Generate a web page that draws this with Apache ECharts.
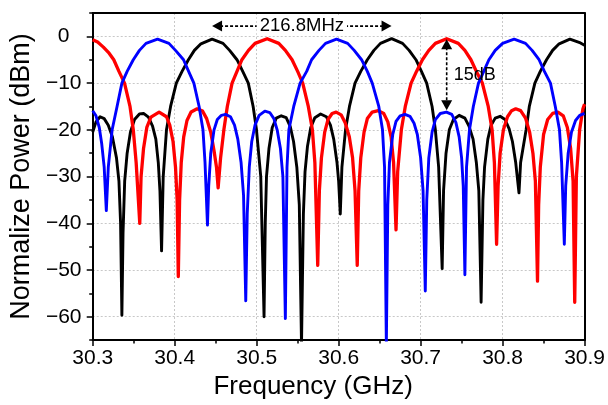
<!DOCTYPE html>
<html><head><meta charset="utf-8">
<script src="https://cdn.jsdelivr.net/npm/echarts@6/dist/echarts.min.js"></script>
<style>html,body{margin:0;padding:0;background:#fff}#c{width:608px;height:405px}</style>
</head><body><div id="c"></div>
<script>
// ---- data (frequency GHz, power dBm) ----
const blackCurve = [
[30.300,-20.5],[30.304,-18.3],[30.309,-17.2],[30.314,-17.6],[30.319,-19.0],[30.324,-21.5],[30.329,-26],[30.332,-31],[30.334,-40],[30.3356,-59.7],
[30.337,-42],[30.339,-31],[30.342,-25],[30.346,-20.5],[30.351,-17.8],[30.357,-16.6],[30.362,-16.5],[30.368,-17.3],[30.373,-19.2],[30.377,-22],[30.380,-27],[30.382,-33],[30.384,-45.9],
[30.386,-30],[30.390,-20],[30.395,-15],[30.402,-10],[30.409,-7.5],[30.4167,-5],[30.424,-3.0],[30.432,-1.6],[30.4456,-0.6],[30.459,-1.5],[30.467,-3.0],[30.476,-5],[30.483,-7.5],[30.4898,-10],[30.4957,-15],[30.4998,-20],[30.505,-30],[30.509,-60],
[30.5105,-40],[30.512,-30],[30.515,-24],[30.519,-19.5],[30.524,-17.5],[30.530,-17.0],[30.536,-17.4],[30.541,-19.3],[30.545,-22.5],[30.549,-28],[30.552,-36],[30.5547,-66],
[30.557,-38],[30.559,-29],[30.562,-23.5],[30.566,-19.5],[30.571,-17.4],[30.578,-16.6],[30.585,-17.2],[30.590,-19],[30.594,-22],[30.598,-27],[30.600,-31],[30.602,-38],
[30.604,-28],[30.6084,-20],[30.6132,-15],[30.620,-10],[30.627,-7.5],[30.635,-5],[30.643,-3],[30.651,-1.5],[30.6646,-0.5],[30.678,-1.5],[30.686,-3],[30.6943,-5],[30.701,-7.5],[30.7074,-10],[30.714,-15],[30.718,-20],[30.722,-28],[30.7263,-49.7],
[30.728,-33],[30.731,-25],[30.735,-20],[30.740,-17.8],[30.747,-16.9],[30.754,-17.5],[30.759,-19.2],[30.764,-22],[30.768,-27],[30.771,-33],[30.7738,-56.9],
[30.776,-35],[30.778,-28],[30.782,-22],[30.786,-19],[30.791,-17.5],[30.797,-17.1],[30.803,-17.8],[30.808,-19.8],[30.812,-22.5],[30.816,-27],[30.820,-33.5],
[30.822,-27],[30.8287,-20],[30.8326,-15],[30.8394,-10],[30.846,-7.5],[30.8536,-5],[30.861,-3],[30.869,-1.6],[30.8821,-0.6],[30.895,-1.4],[30.900,-1.9]
];
const redCurve = [
[30.300,-0.7],[30.306,-1.2],[30.313,-2.3],[30.320,-3.6],[30.3257,-5],[30.332,-7.5],[30.3388,-10],[30.3455,-15],[30.3495,-20],[30.353,-27],[30.3574,-40],
[30.359,-30],[30.362,-24],[30.366,-19.5],[30.371,-17.3],[30.381,-16.2],[30.390,-17.2],[30.394,-19],[30.398,-22.5],[30.401,-28],[30.403,-35],[30.4044,-51.4],
[30.406,-35],[30.408,-27],[30.411,-21.5],[30.415,-18],[30.420,-16.2],[30.4274,-15.5],[30.434,-16],[30.439,-17.6],[30.444,-20.5],[30.448,-24.5],[30.451,-28],[30.453,-32.4],
[30.456,-26],[30.460,-20],[30.4642,-15],[30.470,-10],[30.476,-7.5],[30.482,-5],[30.490,-3],[30.498,-1.5],[30.5128,-0.5],[30.527,-1.5],[30.535,-3],[30.5432,-5],[30.550,-7.5],[30.5562,-10],[30.563,-15],[30.568,-20],[30.571,-27],[30.5745,-49],
[30.5765,-33],[30.579,-26],[30.583,-20.5],[30.587,-17.8],[30.592,-16.5],[30.597,-16.2],[30.603,-16.8],[30.608,-18.5],[30.613,-21.5],[30.617,-26],[30.620,-33],[30.6227,-49],
[30.6245,-33],[30.627,-26],[30.631,-20.5],[30.635,-17.6],[30.641,-16.2],[30.6484,-15.9],[30.655,-16.5],[30.660,-18.3],[30.664,-21.5],[30.667,-27],[30.670,-41.4],
[30.672,-29],[30.6765,-20],[30.6813,-15],[30.6884,-10],[30.695,-7.5],[30.7022,-5],[30.710,-3],[30.718,-1.5],[30.7318,-0.5],[30.746,-1.5],[30.754,-3],[30.7614,-5],[30.768,-7.5],[30.7753,-10],[30.7825,-15],[30.7872,-20],[30.790,-27],[30.7927,-44.5],
[30.7945,-32],[30.797,-25],[30.801,-20],[30.806,-17.2],[30.811,-15.9],[30.816,-15.5],[30.822,-15.9],[30.828,-17.5],[30.833,-20.5],[30.837,-25],[30.840,-31],[30.8426,-52.4],
[30.844,-36],[30.846,-28],[30.850,-21],[30.855,-17.8],[30.861,-16.5],[30.8675,-16.2],[30.874,-17],[30.879,-19.5],[30.883,-24],[30.886,-31],[30.888,-56.9],
[30.890,-30],[30.894,-20],[30.898,-15.5],[30.900,-14.5]
];
const blueCurve = [
[30.300,-15.9],[30.304,-17],[30.308,-19.5],[30.311,-23],[30.314,-28],[30.3166,-37.3],
[30.319,-28],[30.3237,-20],[30.3297,-15],[30.3356,-10],[30.342,-7.5],[30.3495,-5],[30.357,-3],[30.365,-1.5],[30.3791,-0.6],[30.393,-1.5],[30.401,-3],[30.4108,-5],[30.417,-7.5],[30.4234,-10],[30.4298,-15],[30.4345,-20],[30.437,-27],[30.440,-40.4],
[30.4415,-32],[30.444,-25],[30.448,-20],[30.452,-17.8],[30.457,-16.9],[30.462,-16.7],[30.468,-17.2],[30.473,-19],[30.477,-22],[30.481,-27],[30.484,-34],[30.4867,-56.6],
[30.4885,-38],[30.491,-28],[30.494,-22.5],[30.498,-19],[30.503,-16.9],[30.510,-16],[30.516,-16.3],[30.521,-17.6],[30.525,-20],[30.529,-24],[30.532,-30],[30.535,-60.4],
[30.537,-28],[30.5393,-20],[30.5452,-15],[30.553,-10],[30.561,-7.5],[30.567,-5],[30.576,-3],[30.584,-1.5],[30.5974,-0.6],[30.611,-1.5],[30.619,-3],[30.628,-5],[30.635,-7.5],[30.641,-10],[30.649,-15],[30.6535,-20],[30.656,-28],[30.6582,-66],
[30.660,-36],[30.662,-27],[30.666,-21],[30.670,-18.2],[30.675,-17],[30.681,-16.7],[30.687,-17.1],[30.692,-18.6],[30.696,-21],[30.700,-26],[30.703,-33],[30.7057,-54.5],
[30.7075,-35],[30.710,-26],[30.714,-20.5],[30.718,-17.8],[30.724,-16.5],[30.7315,-16.2],[30.738,-16.7],[30.743,-18.4],[30.747,-21.5],[30.750,-26],[30.752,-32],[30.754,-51],
[30.756,-28],[30.7596,-20],[30.7643,-15],[30.7706,-10],[30.777,-7.5],[30.7833,-5],[30.791,-3],[30.800,-1.5],[30.8141,-0.6],[30.828,-1.5],[30.836,-3],[30.8445,-5],[30.851,-7.5],[30.8584,-10],[30.8643,-15],[30.8694,-20],[30.872,-27],[30.8753,-44.5],
[30.877,-32],[30.880,-25],[30.884,-20.5],[30.889,-18],[30.894,-16.9],[30.900,-16.5]
];
const xTickValues = [30.3, 30.4, 30.5, 30.6, 30.7, 30.8, 30.9];
const yTickValues = [0, -10, -20, -30, -40, -50, -60];
const xTitle = 'Frequency (GHz)';
const yTitle = 'Normalize Power (dBm)';
// annotations (data coordinates)
const fsrArrowX = [30.4456, 30.6646];
const fsrArrowY = 2.2;
const fsrLabel = '216.8MHz';
const ratioArrowX = 30.7318;
const ratioArrowY = [-0.6, -15.8];
const ratioLabel = '15dB';
const ratioLabelY = -8.3;

// ---- chart ----
const FONT = '"Liberation Sans", Arial, Helvetica, sans-serif';
const chart = echarts.init(document.getElementById('c'), null, {renderer: 'canvas'});
const lineSeries = (name, data, color, w, z) => ({
  name, type: 'line', data, showSymbol: false, symbol: 'none', z,
  lineStyle: {color, width: w, join: 'round'}, itemStyle: {color}, clip: true, animation: false
});
const xMin = xTickValues[0], xMax = xTickValues[xTickValues.length - 1];
const frameAxis = {axisLine: {show: true, onZero: false, lineStyle: {color: '#000', width: 2}},
  axisTick: {show: false}, axisLabel: {show: false}, splitLine: {show: false}};
chart.setOption({
  animation: false,
  backgroundColor: '#fff',
  grid: {left: 89, right: 13, top: 13, bottom: 56},
  xAxis: [{
    type: 'value', min: xMin, max: xMax, interval: 0.1,
    name: xTitle, nameLocation: 'middle', nameGap: 29,
    nameTextStyle: {fontSize: 26, fontFamily: FONT, color: '#000', padding: [0, 51, 0, 0]},
    axisLine: {show: true, onZero: false, lineStyle: {color: '#000', width: 2}},
    axisTick: {show: true, length: 6, lineStyle: {color: '#000', width: 1.5}},
    minorTick: {show: true, splitNumber: 2, length: 3.5, lineStyle: {color: '#000', width: 1.5}},
    axisLabel: {fontSize: 21, fontFamily: FONT, color: '#000', margin: 8, formatter: v => v.toFixed(1)},
    splitLine: {show: true, lineStyle: {color: '#c8c8c8', width: 1, type: [2, 2]}}
  }, Object.assign({type: 'value', min: xMin, max: xMax, position: 'top'}, frameAxis)],
  yAxis: [{
    type: 'value', min: -65, max: 5, splitNumber: 7,
    name: yTitle, nameLocation: 'middle', nameGap: 50,
    nameTextStyle: {fontSize: 27, fontFamily: FONT, color: '#000'},
    axisLine: {show: true, onZero: false, lineStyle: {color: '#000', width: 2}},
    axisTick: {show: true, length: 6, lineStyle: {color: '#000', width: 1.5}},
    axisLabel: {fontSize: 21, fontFamily: FONT, color: '#000', margin: 29, align: 'center',
      showMinLabel: false, showMaxLabel: false,
      formatter: v => yTickValues.includes(v) ? (v < 0 ? '\u2212' + Math.abs(v) : String(v)) : ''},
    splitLine: {show: true, lineStyle: {color: '#c8c8c8', width: 1, type: [2, 2]}}
  }, {
    type: 'value', min: -65, max: 5, interval: 5, position: 'left', offset: 0,
    axisLine: {show: false, onZero: false}, axisLabel: {show: false}, splitLine: {show: false},
    axisTick: {show: true, length: 3.5, lineStyle: {color: '#000', width: 1.5}}
  }, Object.assign({type: 'value', min: -65, max: 5, position: 'right'}, frameAxis)],
  series: [
    lineSeries('black', blackCurve, '#000000', 2.9, 2),
    lineSeries('red', redCurve, '#ff0000', 3.3, 3),
    lineSeries('blue', blueCurve, '#0000ff', 2.9, 4)
  ]
});

function arrowHead(tip, dir, len, half) {
  const bx = tip[0] - dir[0] * len, by = tip[1] - dir[1] * len;
  const nx = -dir[1], ny = dir[0];
  return {type: 'polygon', z: 100, shape: {points: [tip, [bx + nx * half, by + ny * half], [bx - nx * half, by - ny * half]]}, style: {fill: '#000'}};
}
const toPx = p => chart.convertToPixel({xAxisIndex: 0, yAxisIndex: 0}, p);
const a1 = toPx([fsrArrowX[0], fsrArrowY]);
const a2 = toPx([fsrArrowX[1], fsrArrowY]);
const v1 = toPx([ratioArrowX, ratioArrowY[0]]);
const v2 = toPx([ratioArrowX, ratioArrowY[1]]);
const vt = toPx([ratioArrowX, ratioLabelY]);
const dash = {stroke: '#000', lineWidth: 1.6, lineDash: [3, 2]};
chart.setOption({
  graphic: [
    {type: 'line', z: 100, shape: {x1: a1[0] + 8, y1: a1[1], x2: a2[0] - 8, y2: a2[1]}, style: dash},
    arrowHead(a1, [-1, 0], 10, 5.5),
    arrowHead(a2, [1, 0], 10, 5.5),
    {type: 'text', z: 101, x: (a1[0] + a2[0]) / 2, y: a1[1],
      style: {text: fsrLabel, font: '18.5px ' + FONT, fill: '#000', align: 'center', verticalAlign: 'middle', backgroundColor: '#fff', padding: [0, 3]}},
    {type: 'line', z: 100, shape: {x1: v1[0], y1: v1[1] + 8, x2: v2[0], y2: v2[1] - 8}, style: dash},
    arrowHead(v1, [0, -1], 10, 5.5),
    arrowHead(v2, [0, 1], 10, 5.5),
    {type: 'text', z: 101, x: vt[0] + 7, y: vt[1],
      style: {text: ratioLabel, font: '18px ' + FONT, fill: '#000', align: 'left', verticalAlign: 'middle'}}
  ]
});
</script>
</body></html>
